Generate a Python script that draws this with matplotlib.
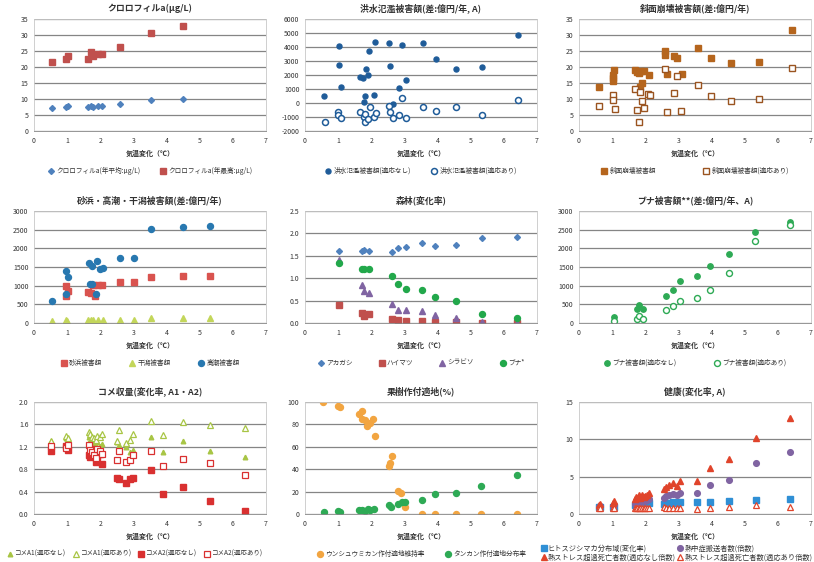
import matplotlib
matplotlib.use('Agg')
import matplotlib.pyplot as plt
import numpy as np

plt.rcParams['font.family'] = ['Noto Sans CJK JP', 'DejaVu Sans']

# === Data ===
# クロロフィルa
chl_x = [0.55, 0.97, 1.04, 1.64, 1.71, 1.77, 1.94, 2.04, 2.6, 3.52, 4.51]
chl_mean = [7.2, 7.5, 7.7, 7.5, 7.8, 7.6, 7.7, 7.7, 8.5, 9.6, 10.1]
chl_max = [21.5, 22.5, 23.3, 22.5, 24.8, 23.3, 24.0, 24.0, 26.4, 30.5, 32.9]

# 洪水氾濫被害額
flood_x = [0.58, 1.03, 1.03, 1.09, 1.66, 1.74, 1.84, 1.89, 1.94, 1.80, 1.78, 2.07,
           2.12, 2.54, 2.56, 2.67, 2.83, 2.93, 3.06, 3.55, 3.94, 4.57, 5.35, 6.44]
flood_no = [520, 4070, 2700, 1110, 1890, 1800, 2410, 2010, 3720, 470, 100, 590,
            4380, 4260, 2650, -70, 1040, 4120, 1630, 4260, 3120, 2410, 2600, 4850]
flood_ad_x = [0.6, 1.01, 1.01, 1.08, 1.66, 1.78, 1.82, 1.81, 1.89, 1.96, 2.09, 2.14,
              2.54, 2.56, 2.67, 2.83, 2.93, 3.06, 3.55, 3.94, 4.57, 5.35, 6.44]
flood_ad = [-1330, -620, -850, -1090, -660, -1020, -780, -1330, -1140, -260, -1020, -730,
            -190, -660, -1090, -850, 380, -1090, -310, -540, -310, -830, 240]

# 斜面崩壊被害額
slope_x = [0.61, 1.02, 1.03, 1.07, 1.03, 1.69, 1.76, 1.81, 1.86, 1.91, 1.84, 1.96, 2.12,
           2.59, 2.59, 2.88, 2.96, 3.1, 2.65, 3.59, 3.97, 4.6, 5.42, 6.43]
slope_no = [13.9, 16.5, 17.5, 19.0, 15.7, 19.0, 18.3, 18.0, 18.9, 15.0, 13.6, 18.8, 17.5,
            25.0, 23.9, 23.5, 22.9, 17.7, 17.8, 26.0, 22.7, 21.1, 21.5, 31.6]
slope_ad_x = [0.61, 1.03, 1.03, 1.09, 1.69, 1.76, 1.81, 1.84, 1.91, 1.96, 2.08, 2.13,
              2.59, 2.65, 2.88, 2.96, 3.08, 3.59, 3.97, 4.6, 5.42, 6.43]
slope_ad = [7.9, 11.1, 9.8, 6.9, 13.0, 6.5, 2.7, 12.2, 9.4, 7.3, 11.6, 11.4,
            19.3, 5.9, 11.9, 17.1, 6.2, 14.3, 10.9, 9.4, 9.9, 19.7]

# 砂浜・高潮・干潟被害額
surge_x = [0.54, 0.98, 1.03, 0.98, 1.66, 1.74, 1.89, 1.99, 2.09, 1.69, 1.76, 1.86,
           2.59, 3.03, 3.52, 4.51, 5.32]
surge = [577, 1400, 1240, 780, 1600, 1535, 1660, 1446, 1464, 1040, 1040, 780,
         1730, 1730, 2530, 2564, 2590]
beach_x = [0.96, 0.98, 1.03, 1.63, 1.71, 1.77, 1.85, 1.94, 2.04, 2.59, 3.03, 3.52, 4.51, 5.32]
beach = [994, 736, 860, 843, 816, 1020, 728, 1020, 1020, 1109, 1091, 1224, 1260, 1260]
tidal_x = [0.54, 0.96, 1.01, 1.63, 1.71, 1.79, 1.94, 2.07, 2.59, 3.03, 3.52, 4.51, 5.32]
tidal = [44, 80, 62, 80, 80, 80, 80, 80, 89, 89, 133, 133, 133]

# 森林
forest_x = [1.04, 1.73, 1.79, 1.94, 2.64, 2.82, 3.04, 3.54, 3.93, 4.55, 5.35, 6.41]
akagashi = [1.60, 1.60, 1.64, 1.61, 1.58, 1.67, 1.69, 1.79, 1.71, 1.73, 1.90, 1.92]
haimatsu = [0.41, 0.22, 0.15, 0.19, 0.10, 0.07, 0.045, 0.045, 0.02, 0.02, 0.0, 0.0]
shirabiso = [1.40, 0.84, 0.71, 0.67, 0.43, 0.28, 0.28, 0.26, 0.17, 0.12, 0.02, 0.0]
buna = [1.35, 1.21, 1.20, 1.20, 1.06, 0.86, 0.76, 0.74, 0.58, 0.49, 0.19, 0.12]

# ブナ被害額
bdmg_x = [1.07, 1.74, 1.80, 1.94, 2.63, 2.83, 3.05, 3.55, 3.94, 4.53, 5.32, 6.37]
bdmg_no = [160, 384, 491, 366, 723, 893, 1116, 1250, 1518, 1839, 2437, 2705]
bdmg_ad = [54, 116, 187, 116, 339, 455, 580, 679, 893, 1348, 2205, 2634]

# コメ収量
rice_x = [0.52, 0.98, 1.03, 1.65, 1.70, 1.75, 1.80, 1.86, 1.90, 1.99, 2.05, 2.49, 2.55,
          2.78, 2.90, 3.0, 3.52, 3.9, 4.51, 5.32, 6.38]
a1_no = [1.30, 1.36, 1.32, 1.38, 1.33, 1.27, 1.31, 1.22, 1.29, 1.21, 1.25, 1.29, 1.24,
         1.20, 1.10, 1.14, 1.38, 1.10, 1.30, 1.12, 1.01]
a1_ad = [1.31, 1.39, 1.35, 1.46, 1.42, 1.38, 1.36, 1.33, 1.40, 1.38, 1.42, 1.30, 1.50,
         1.27, 1.32, 1.42, 1.66, 1.41, 1.64, 1.59, 1.54]
a2_no = [1.12, 1.21, 1.14, 1.05, 1.02, 1.16, 1.08, 0.92, 1.02, 1.07, 0.89, 0.65, 0.63,
         0.55, 0.62, 0.65, 0.79, 0.36, 0.48, 0.24, 0.06]
a2_ad = [1.21, 1.17, 1.24, 1.24, 1.14, 1.11, 1.06, 1.00, 1.16, 1.12, 1.08, 0.96, 1.12,
         0.92, 0.96, 1.05, 1.12, 0.86, 0.98, 0.91, 0.70]

# 果樹作付適地
fruit_x = [0.55, 0.99, 1.06, 1.64, 1.73, 1.73, 1.81, 1.88, 1.96, 2.06, 2.11, 2.54, 2.57,
           2.64, 2.82, 2.9, 3.02, 3.52, 3.91, 4.55, 5.32, 6.4]
unshu = [99.7, 96.7, 95.2, 89.6, 92.3, 84.8, 84.2, 78.3, 81.3, 85.1, 69.9, 42.6, 45.5,
         51.5, 20.8, 18.8, 6.0, 0, 0, 0, 0, 0]
tankan_x = [0.57, 0.99, 1.06, 1.64, 1.73, 1.81, 1.89, 1.96, 2.09, 2.54, 2.6, 2.82, 2.92,
            3.02, 3.52, 3.91, 4.55, 5.32, 6.4]
tankan = [1.8, 2.4, 1.8, 3.3, 3.9, 3.0, 4.8, 3.9, 4.8, 7.7, 6.3, 9.2, 10.4, 10.7, 12.5,
          17.9, 18.8, 24.7, 34.5]

# 健康
health_x = [0.6, 0.62, 1.03, 1.06, 1.68, 1.72, 1.76, 1.8, 1.85, 1.9, 1.95, 2.0, 2.05, 2.1,
            2.55, 2.62, 2.72, 2.85, 2.95, 3.05, 3.55, 3.94, 4.54, 5.34, 6.38]
mosquito = [0.9, 0.9, 0.9, 1.0, 1.2, 1.3, 1.2, 1.4, 1.3, 1.45, 1.3, 1.4, 1.45, 1.5,
            1.4, 1.5, 1.5, 1.55, 1.5, 1.55, 1.6, 1.6, 1.7, 1.9, 2.05]
heatstroke = [1.0, 1.1, 1.1, 1.2, 1.4, 1.6, 1.5, 1.8, 1.6, 1.9, 1.7, 1.8, 1.9, 2.0,
              2.2, 2.4, 2.5, 2.7, 2.6, 2.8, 2.8, 3.9, 4.5, 6.8, 8.3]
hs_no = [1.2, 1.4, 1.5, 1.7, 2.0, 2.3, 2.1, 2.5, 2.2, 2.6, 2.3, 2.4, 2.5, 2.8,
         3.4, 3.6, 3.9, 4.1, 3.8, 4.4, 4.4, 6.2, 7.3, 10.2, 12.9]
hs_ad = [0.8, 0.8, 0.8, 0.8, 0.75, 0.8, 0.85, 0.8, 0.75, 0.8, 0.85, 0.8, 0.75, 0.8,
         0.9, 0.85, 0.8, 0.85, 0.8, 0.8, 0.67, 0.8, 0.9, 1.15, 0.9]

XLABEL = '気温変化（℃）'

# === Layout (px -> fig fraction) ===
W, H = 814, 562
COLS = [34, 305, 579]
ROWS = [19, 211, 402]   # top edge of plot area
AW, AH = 232, 112


def make_ax(fig, r, c):
    left = COLS[c] / W
    bottom = 1 - (ROWS[r] + AH) / H
    return fig.add_axes([left, bottom, AW / W, AH / H])


def style(ax, title, ymin, ymax, ystep, fmt='{:.0f}'):
    ax.set_xlim(0, 7)
    ax.set_ylim(ymin, ymax)
    ax.set_xticks(range(8))
    yt = np.arange(ymin, ymax + ystep / 2, ystep)
    ax.set_yticks(yt)
    ax.set_yticklabels([fmt.format(v) for v in yt])
    ax.grid(axis='y', color='#858585', lw=0.9)
    ax.set_axisbelow(True)
    for s in ax.spines.values():
        s.set_color('#c8c8c8')
        s.set_linewidth(0.6)
    ax.spines['bottom'].set_color('#858585')
    ax.tick_params(length=0, labelsize=5, colors='#333333', pad=4)
    ax.text(0.5, 1 + 11 / AH, title, transform=ax.transAxes, ha='center', va='center',
            fontsize=6.4, fontweight='bold', color='#333333')
    ax.text(0.5, -22 / AH, XLABEL, transform=ax.transAxes, ha='center', va='center',
            fontsize=5, fontweight='bold', color='#333333')


def legend(ax, ncol, x=0.5, y=-40 / AH, fs=4.8, cs=2.0):
    ax.legend(loc='center', bbox_to_anchor=(x, y), ncol=ncol, frameon=False,
              fontsize=fs, handletextpad=0.3, columnspacing=cs, handlelength=1.0,
              borderaxespad=0, labelcolor='#333333')


fig = plt.figure(figsize=(W / 100, H / 100), dpi=100)

# 1 クロロフィルa
ax = make_ax(fig, 0, 0)
ax.plot(chl_x, chl_mean, 'D', ms=3, color='#4F81BD', ls='none', label='クロロフィルa(年平均:μg/L)')
ax.plot(chl_x, chl_max, 's', ms=4.6, color='#C0504D', ls='none', label='クロロフィルa(年最高:μg/L)')
style(ax, 'クロロフィルa(μg/L)', 0, 35, 5)
legend(ax, 2, cs=3.0)

# 2 洪水氾濫被害額
ax = make_ax(fig, 0, 1)
ax.plot(flood_x, flood_no, 'o', ms=3.6, color='#1F5C99', ls='none', label='洪水氾濫被害額(適応なし)')
ax.plot(flood_ad_x, flood_ad, 'o', ms=4.3, mfc='white', mec='#1F5C99', mew=1.1, ls='none',
        label='洪水氾濫被害額(適応あり)')
style(ax, '洪水氾濫被害額(差:億円/年, A)', -2000, 6000, 1000)
legend(ax, 2, cs=3.0)

# 3 斜面崩壊被害額
ax = make_ax(fig, 0, 2)
ax.plot(slope_x, slope_no, 's', ms=4.3, color='#B5651D', ls='none', label='斜面崩壊被害額')
ax.plot(slope_ad_x, slope_ad, 's', ms=4.6, mfc='white', mec='#9A5420', mew=1.0, ls='none',
        label='斜面崩壊被害額(適応あり)')
style(ax, '斜面崩壊被害額(差:億円/年)', 0, 35, 5)
legend(ax, 2, cs=7.0)

# 4 砂浜・高潮・干潟被害額
ax = make_ax(fig, 1, 0)
ax.plot(beach_x, beach, 's', ms=4.3, color='#D9534F', ls='none', label='砂浜被害額')
ax.plot(tidal_x, tidal, '^', ms=4.0, color='#C3D65A', ls='none', label='干潟被害額')
ax.plot(surge_x, surge, 'o', ms=4.3, color='#2878B0', ls='none', label='高潮被害額')
style(ax, '砂浜・高潮・干潟被害額(差:億円/年)', 0, 3000, 500)
legend(ax, 3, cs=4.0)

# 5 森林
ax = make_ax(fig, 1, 1)
ax.plot(forest_x, akagashi, 'D', ms=3, color='#4F81BD', ls='none', label='アカガシ')
ax.plot(forest_x, haimatsu, 's', ms=4.3, color='#C0504D', ls='none', label='ハイマツ')
ax.plot(forest_x, shirabiso, '^', ms=4.0, color='#8064A2', ls='none', label='シラビソ')
ax.plot(forest_x, buna, 'o', ms=4.3, color='#22A84B', ls='none', label='ブナ*')
style(ax, '森林(変化率)', 0, 2.5, 0.5, '{:.1f}')
legend(ax, 4, cs=3.8)

# 6 ブナ被害額
ax = make_ax(fig, 1, 2)
ax.plot(bdmg_x, bdmg_no, 'o', ms=3.9, color='#2EAA55', ls='none', label='ブナ被害額(適応なし)')
ax.plot(bdmg_x, bdmg_ad, 'o', ms=4.3, mfc='white', mec='#2EAA55', mew=1.0, ls='none',
        label='ブナ被害額(適応あり)')
style(ax, 'ブナ被害額**(差:億円/年、A)', 0, 3000, 500)
legend(ax, 2, cs=5.5)

# 7 コメ収量
ax = make_ax(fig, 2, 0)
ax.plot(rice_x, a1_no, '^', ms=3.3, color='#A8C545', ls='none', label='コメA1(適応なし)')
ax.plot(rice_x, a1_ad, '^', ms=4.3, mfc='white', mec='#A8C545', mew=0.9, ls='none',
        label='コメA1(適応あり)')
ax.plot(rice_x, a2_no, 's', ms=4.1, color='#D93030', ls='none', label='コメA2(適応なし)')
ax.plot(rice_x, a2_ad, 's', ms=4.3, mfc='white', mec='#D93030', mew=0.9, ls='none',
        label='コメA2(適応あり)')
style(ax, 'コメ収量(変化率, A1・A2)', 0, 2.0, 0.4, '{:.1f}')
legend(ax, 4, x=0.435, fs=4.7, cs=0.9)

# 8 果樹作付適地
ax = make_ax(fig, 2, 1)
ax.plot(fruit_x, unshu, 'o', ms=4.3, color='#F2A541', ls='none', label='ウンシュウミカン作付適地維持率')
ax.plot(tankan_x, tankan, 'o', ms=4.3, color='#2EAA55', ls='none', label='タンカン作付適地分布率')
style(ax, '果樹作付適地(%)', 0, 100, 20)
legend(ax, 2, cs=3.0)

# 9 健康
ax = make_ax(fig, 2, 2)
h1, = ax.plot(health_x, mosquito, 's', ms=3.9, color='#2F8FD5', ls='none', label='ヒトスジシマカ分布域(変化率)')
h2, = ax.plot(health_x, heatstroke, 'o', ms=4.1, color='#8064A2', ls='none', label='熱中症搬送者数(倍数)')
h3, = ax.plot(health_x, hs_no, '^', ms=4.1, color='#E0442B', ls='none', label='熱ストレス超過死亡者数(適応なし倍数)')
h4, = ax.plot(health_x, hs_ad, '^', ms=4.1, mfc='white', mec='#E0442B', mew=0.9, ls='none',
              label='熱ストレス超過死亡者数(適応あり倍数)')
style(ax, '健康(変化率, A)', 0, 15, 5)
ax.legend(handles=[h1, h3, h2, h4], loc='upper left', bbox_to_anchor=(-38 / AW, -31 / AH),
          ncol=2, frameon=False, fontsize=5.2, handletextpad=0.2, columnspacing=0.3,
          handlelength=0.7, labelspacing=0.05, borderaxespad=0, borderpad=0,
          labelcolor='#333333')

fig.savefig('out.png', dpi=100)
